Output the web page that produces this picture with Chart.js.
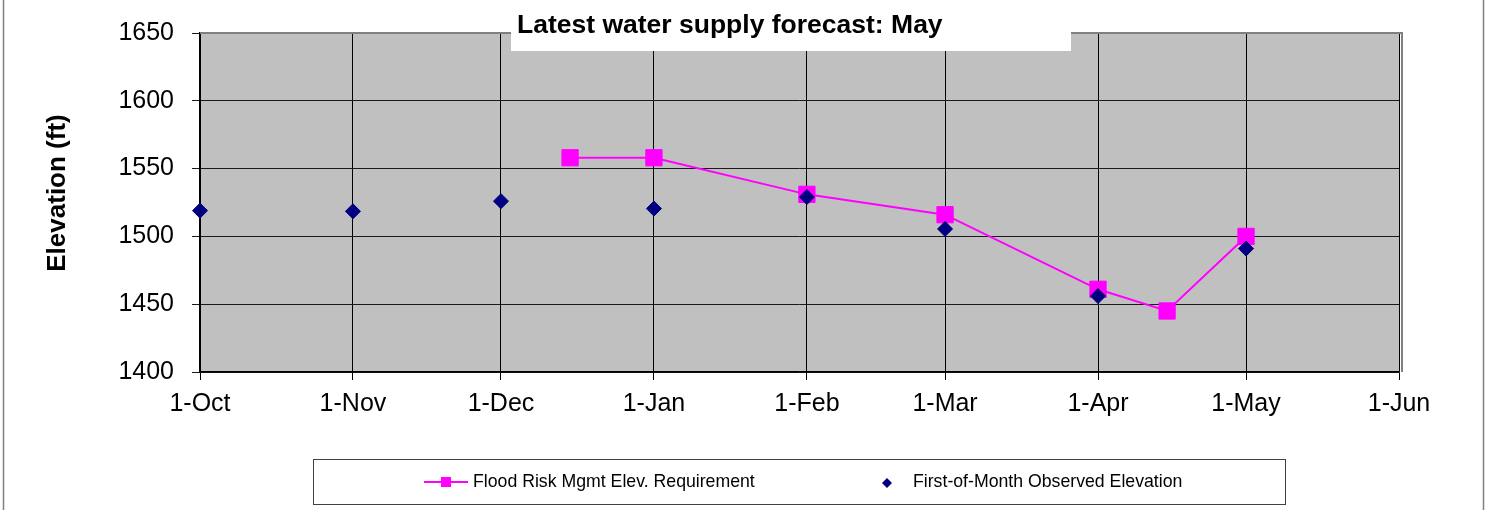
<!DOCTYPE html>
<html>
<head>
<meta charset="utf-8">
<script src="https://cdn.jsdelivr.net/npm/chart.js@4"></script>
<style>
  html, body { margin: 0; padding: 0; background: #fff; }
  canvas { display: block; }
</style>
</head>
<body>
<canvas id="elevChart" width="1492" height="510"></canvas>
<script>
// month ticks along the bottom
const tickLabels = ["1-Oct", "1-Nov", "1-Dec", "1-Jan", "1-Feb", "1-Mar", "1-Apr", "1-May", "1-Jun"];
const tickDates = ["2010-10-01", "2010-11-01", "2010-12-01", "2011-01-01", "2011-02-01",
                   "2011-03-01", "2011-04-01", "2011-05-01", "2011-06-01"];

// Flood Risk Mgmt Elev. Requirement
const floodDates = ["2010-12-15", "2011-01-01", "2011-02-01", "2011-03-01", "2011-04-01", "2011-04-15", "2011-05-01"];
const floodElev = [1558, 1558, 1531, 1516, 1461, 1445, 1500];

// First-of-Month Observed Elevation
const obsDates = ["2010-10-01", "2010-11-01", "2010-12-01", "2011-01-01", "2011-02-01",
                  "2011-03-01", "2011-04-01", "2011-05-01"];
const obsElev = [1519, 1518.5, 1526, 1520.5, 1529, 1505.5, 1456, 1491];

const yTicks = [1400, 1450, 1500, 1550, 1600, 1650];

const FONT = "'Liberation Sans', Arial, sans-serif";
const PINK = "#FF00FF";
const NAVY = "#000080";

// days since the first tick date
function dayOf(s) {
    const p = s.split("-").map(Number);
    const q = tickDates[0].split("-").map(Number);
    return (Date.UTC(p[0], p[1] - 1, p[2]) - Date.UTC(q[0], q[1] - 1, q[2])) / 86400000;
}

const tickDays = tickDates.map(dayOf);

// grey plot background + grey top/right frame
const plotFrame = {
    id: "plotFrame",
    beforeDraw(chart) {
        const a = chart.chartArea;
        const ctx = chart.ctx;
        ctx.save();
        ctx.fillStyle = "#C0C0C0";
        ctx.fillRect(a.left, a.top, a.right - a.left, a.bottom - a.top);
        ctx.restore();
    },
    beforeDatasetsDraw(chart) {
        const a = chart.chartArea;
        const ctx = chart.ctx;
        ctx.save();
        ctx.strokeStyle = "#808080";
        ctx.lineWidth = 2;
        ctx.beginPath();
        ctx.moveTo(a.left, a.top);
        ctx.lineTo(a.right + 3, a.top);
        ctx.lineTo(a.right + 3, a.bottom);
        ctx.stroke();
        ctx.restore();
    }
};

// title box, axis title, legend box and outer frame
const overlay = {
    id: "overlay",
    afterDraw(chart) {
        const ctx = chart.ctx;
        ctx.save();

        // outer frame (left / right edges)
        ctx.strokeStyle = "#808080";
        ctx.lineWidth = 1.5;
        ctx.beginPath();
        ctx.moveTo(3.5, 0);
        ctx.lineTo(3.5, 510);
        ctx.moveTo(1483.5, 0);
        ctx.lineTo(1483.5, 510);
        ctx.stroke();

        // title
        ctx.fillStyle = "#fff";
        ctx.fillRect(511, 0, 560, 51);
        ctx.fillStyle = "#000";
        ctx.font = "bold 26.5px " + FONT;
        ctx.textBaseline = "alphabetic";
        ctx.textAlign = "left";
        ctx.fillText("Latest water supply forecast: May", 517, 33);

        // y axis title
        ctx.save();
        ctx.translate(58, 193);
        ctx.rotate(-Math.PI / 2);
        ctx.font = "bold 26px " + FONT;
        ctx.textAlign = "center";
        ctx.textBaseline = "middle";
        ctx.fillText("Elevation (ft)", 0, 0);
        ctx.restore();

        // legend
        ctx.strokeStyle = "#404040";
        ctx.lineWidth = 1;
        ctx.strokeRect(313.5, 459.5, 972, 45);

        ctx.strokeStyle = PINK;
        ctx.lineWidth = 2;
        ctx.beginPath();
        ctx.moveTo(424, 482);
        ctx.lineTo(468, 482);
        ctx.stroke();
        ctx.fillStyle = PINK;
        ctx.fillRect(441, 477, 10, 10);

        ctx.fillStyle = NAVY;
        ctx.beginPath();
        ctx.moveTo(887, 478);
        ctx.lineTo(892, 483);
        ctx.lineTo(887, 488);
        ctx.lineTo(882, 483);
        ctx.closePath();
        ctx.fill();

        ctx.fillStyle = "#000";
        ctx.font = "17.7px " + FONT;
        ctx.textAlign = "left";
        ctx.textBaseline = "middle";
        ctx.fillText("Flood Risk Mgmt Elev. Requirement", 473, 482);
        ctx.fillText("First-of-Month Observed Elevation", 913, 482);

        ctx.restore();
    }
};

const ctx = document.getElementById("elevChart").getContext("2d");

new Chart(ctx, {
    type: "line",
    data: {
        datasets: [
            {
                label: "Flood Risk Mgmt Elev. Requirement",
                data: floodDates.map((d, i) => ({ x: dayOf(d), y: floodElev[i] })),
                borderColor: PINK,
                backgroundColor: PINK,
                borderWidth: 2,
                pointStyle: "rect",
                pointRadius: 11.5,
                pointBorderWidth: 1,
                pointBorderColor: PINK,
                pointBackgroundColor: PINK,
                tension: 0,
                clip: false,
                order: 1
            },
            {
                label: "First-of-Month Observed Elevation",
                data: obsDates.map((d, i) => ({ x: dayOf(d), y: obsElev[i] })),
                showLine: false,
                pointStyle: "rectRot",
                pointRadius: 7.5,
                pointBorderWidth: 1,
                pointBorderColor: NAVY,
                pointBackgroundColor: NAVY,
                clip: false,
                order: 0
            }
        ]
    },
    options: {
        responsive: false,
        animation: false,
        devicePixelRatio: 1,
        layout: {
            padding: { left: 0, top: 31, right: 93, bottom: 68 }
        },
        plugins: {
            legend: { display: false },
            tooltip: { enabled: false },
            title: { display: false }
        },
        scales: {
            x: {
                type: "linear",
                min: tickDays[0],
                max: tickDays[tickDays.length - 1],
                afterBuildTicks: (scale) => {
                    scale.ticks = tickDays.map(v => ({ value: v }));
                },
                afterFit: (scale) => {
                    scale.height = 70;
                },
                ticks: {
                    autoSkip: false,
                    maxRotation: 0,
                    padding: 9,
                    color: "#000",
                    font: { family: FONT, size: 25 },
                    callback: (v) => tickLabels[tickDays.indexOf(v)]
                },
                grid: {
                    color: "#000",
                    lineWidth: 1,
                    tickLength: 8,
                    drawTicks: true
                },
                border: { color: "#000", width: 1.5 }
            },
            y: {
                min: yTicks[0],
                max: yTicks[yTicks.length - 1],
                afterBuildTicks: (scale) => {
                    scale.ticks = yTicks.map(v => ({ value: v }));
                },
                afterFit: (scale) => {
                    scale.width = 200;
                },
                ticks: {
                    padding: 18,
                    color: "#000",
                    font: { family: FONT, size: 25 },
                    callback: (v) => String(v)
                },
                grid: {
                    color: "#1a1a1a",
                    lineWidth: 1,
                    tickLength: 8
                },
                border: { color: "#000", width: 1.5 }
            }
        }
    },
    plugins: [plotFrame, overlay]
});
</script>
</body>
</html>
